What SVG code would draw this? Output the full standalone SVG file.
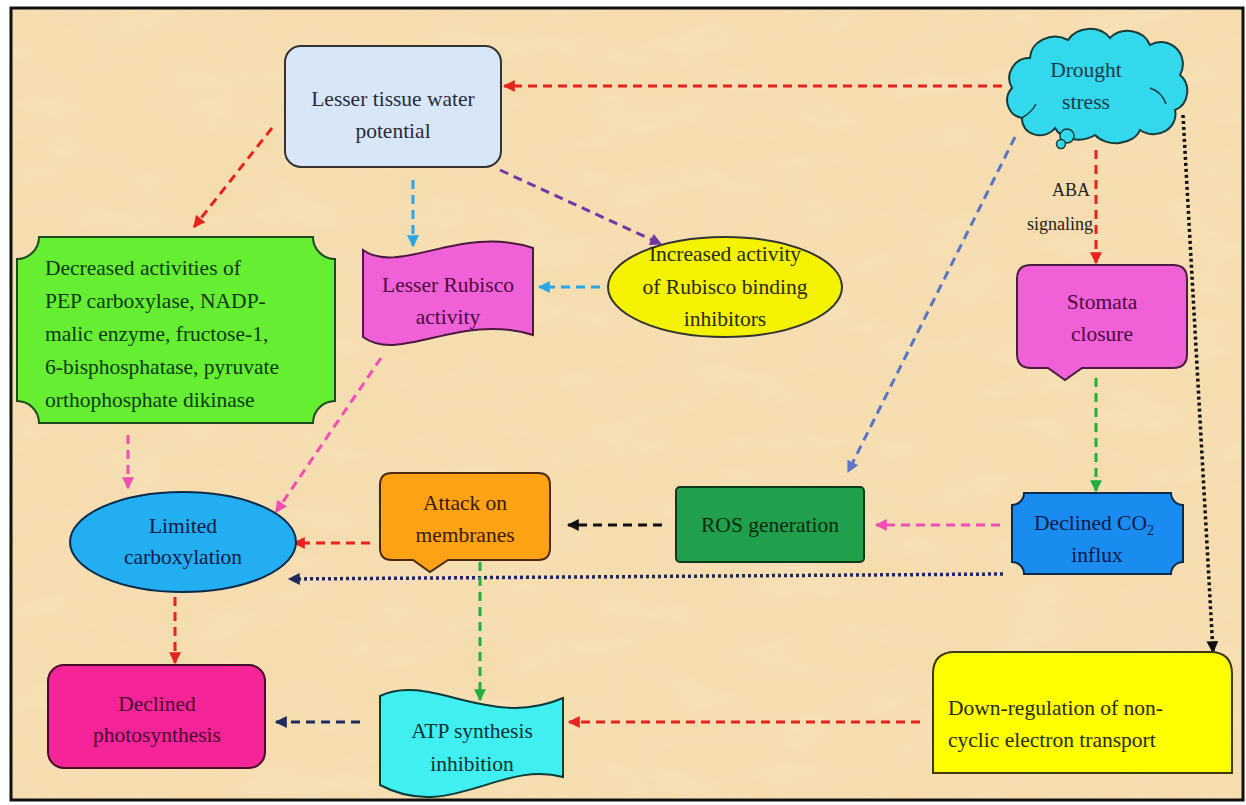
<svg xmlns="http://www.w3.org/2000/svg" width="1246" height="805" viewBox="0 0 1246 805">
<defs>
<filter id="paper" x="0" y="0" width="100%" height="100%">
<feTurbulence type="fractalNoise" baseFrequency="0.012 0.03" numOctaves="4" seed="7" result="n"/>
<feColorMatrix in="n" type="matrix" values="0 0 0 0 0.93  0 0 0 0 0.78  0 0 0 0 0.52  0 0 0 1.1 -0.45" result="c"/>
<feComposite in="c" in2="SourceGraphic" operator="in"/>
</filter>
<marker id="a-red" viewBox="0 0 10 10" refX="9" refY="5" markerWidth="13" markerHeight="12" markerUnits="userSpaceOnUse" orient="auto"><path d="M0,0 L10,5 L0,10 z" fill="#e8221c"/></marker>
<marker id="a-lblue" viewBox="0 0 10 10" refX="9" refY="5" markerWidth="13" markerHeight="12" markerUnits="userSpaceOnUse" orient="auto"><path d="M0,0 L10,5 L0,10 z" fill="#2aa6e6"/></marker>
<marker id="a-purple" viewBox="0 0 10 10" refX="9" refY="5" markerWidth="13" markerHeight="12" markerUnits="userSpaceOnUse" orient="auto"><path d="M0,0 L10,5 L0,10 z" fill="#7436a6"/></marker>
<marker id="a-steel" viewBox="0 0 10 10" refX="9" refY="5" markerWidth="13" markerHeight="12" markerUnits="userSpaceOnUse" orient="auto"><path d="M0,0 L10,5 L0,10 z" fill="#5a76c4"/></marker>
<marker id="a-black" viewBox="0 0 10 10" refX="9" refY="5" markerWidth="13" markerHeight="12" markerUnits="userSpaceOnUse" orient="auto"><path d="M0,0 L10,5 L0,10 z" fill="#111111"/></marker>
<marker id="a-green" viewBox="0 0 10 10" refX="9" refY="5" markerWidth="13" markerHeight="12" markerUnits="userSpaceOnUse" orient="auto"><path d="M0,0 L10,5 L0,10 z" fill="#22ae42"/></marker>
<marker id="a-pink" viewBox="0 0 10 10" refX="9" refY="5" markerWidth="13" markerHeight="12" markerUnits="userSpaceOnUse" orient="auto"><path d="M0,0 L10,5 L0,10 z" fill="#f04eb4"/></marker>
<marker id="a-navy" viewBox="0 0 10 10" refX="9" refY="5" markerWidth="13" markerHeight="12" markerUnits="userSpaceOnUse" orient="auto"><path d="M0,0 L10,5 L0,10 z" fill="#1c2a5e"/></marker>
</defs>
<style>
text{font-family:'Liberation Serif','DejaVu Serif',serif}
.t{font-size:21.5px;text-anchor:middle}
.tl{font-size:21.5px;text-anchor:start}
.sm{font-size:18px;text-anchor:middle}
.shape{stroke-width:2}
.dash{fill:none;stroke-width:3;stroke-dasharray:9 6}
.dot{fill:none;stroke-width:3.5;stroke-dasharray:3 3}
</style>
<rect x="0" y="0" width="1246" height="805" fill="#ffffff"/>
<rect x="11" y="8" width="1232" height="792" fill="#f5ddb0"/>
<rect x="11" y="8" width="1232" height="792" fill="#f5ddb0" filter="url(#paper)" opacity="0.8"/>
<rect x="11" y="8" width="1232" height="792" fill="none" stroke="#111" stroke-width="3"/>

<g id="connectors">
<line class="dash" x1="1002" y1="86" x2="504" y2="86" stroke="#e8221c" marker-end="url(#a-red)"/>
<line class="dash" x1="272" y1="128" x2="194" y2="227" stroke="#e8221c" marker-end="url(#a-red)"/>
<line class="dash" x1="413" y1="180" x2="413" y2="246" stroke="#2aa6e6" marker-end="url(#a-lblue)"/>
<line class="dash" x1="500" y1="170" x2="661" y2="244" stroke="#7436a6" marker-end="url(#a-purple)"/>
<line class="dash" x1="600" y1="287" x2="539" y2="287" stroke="#2aa6e6" marker-end="url(#a-lblue)"/>
<line class="dash" x1="1096" y1="150" x2="1096" y2="263" stroke="#e8221c" marker-end="url(#a-red)"/>
<line class="dash" x1="1015" y1="137" x2="848" y2="472" stroke="#5a76c4" marker-end="url(#a-steel)"/>
<line class="dot" x1="1183" y1="115" x2="1213" y2="652" stroke="#111111" marker-end="url(#a-black)"/>
<line class="dash" x1="1096" y1="378" x2="1096" y2="491" stroke="#22ae42" marker-end="url(#a-green)"/>
<line class="dash" x1="1000" y1="525" x2="876" y2="525" stroke="#f04eb4" marker-end="url(#a-pink)"/>
<line class="dash" x1="662" y1="525" x2="568" y2="525" stroke="#111111" marker-end="url(#a-black)"/>
<line class="dash" x1="370" y1="543" x2="294" y2="543" stroke="#e8221c" marker-end="url(#a-red)"/>
<line class="dot" x1="1003" y1="574" x2="289" y2="579" stroke="#1c2a5e" marker-end="url(#a-navy)"/>
<line class="dash" x1="128" y1="435" x2="128" y2="488" stroke="#f04eb4" marker-end="url(#a-pink)"/>
<line class="dash" x1="381" y1="358" x2="276" y2="512" stroke="#f04eb4" marker-end="url(#a-pink)"/>
<line class="dash" x1="175" y1="597" x2="175" y2="663" stroke="#e8221c" marker-end="url(#a-red)"/>
<line class="dash" x1="480" y1="562" x2="480" y2="700" stroke="#22ae42" marker-end="url(#a-green)"/>
<line class="dash" x1="360" y1="722" x2="276" y2="722" stroke="#1c2a5e" marker-end="url(#a-navy)"/>
<line class="dash" x1="920" y1="722" x2="569" y2="722" stroke="#e8221c" marker-end="url(#a-red)"/>
<text x="1071" y="196" class="sm" fill="#222">ABA</text>
<text x="1060" y="230" class="sm" fill="#222">signaling</text>
</g>

<g id="lesser-tissue">
<rect class="shape" x="285" y="46" width="216" height="121" rx="16" fill="#d8e7f8" stroke="#333"/>
<text class="t" x="393" y="106" fill="#2a2a3a">Lesser tissue water</text>
<text class="t" x="393" y="138" fill="#2a2a3a">potential</text>
</g>

<g id="drought">
<path class="shape" d="M1022,118 A18,18 0 0 1 1012,88 A20,20 0 0 1 1030,58 A25,22 0 0 1 1068,40 A25,22 0 0 1 1110,38 A24,22 0 0 1 1150,45 A22,22 0 0 1 1180,75 A18,20 0 0 1 1175,110 A22,20 0 0 1 1140,130 A25,18 0 0 1 1095,135 A25,18 0 0 1 1055,128 A18,16 0 0 1 1022,118 Z" fill="#34d8ec" stroke="#1a3a3a"/>
<path d="M1150,88 Q1162,92 1166,104" fill="none" stroke="#1a3a3a" stroke-width="1.5"/>
<path d="M1022,118 Q1032,112 1036,104" fill="none" stroke="#1a3a3a" stroke-width="1.5"/>
<circle cx="1067" cy="136" r="7" fill="#34d8ec" stroke="#1a3a3a" stroke-width="1.5"/>
<circle cx="1061" cy="144" r="4.5" fill="#34d8ec" stroke="#1a3a3a" stroke-width="1.5"/>
<text class="t" x="1086" y="77" fill="#1a3a4a">Drought</text>
<text class="t" x="1086" y="109" fill="#1a3a4a">stress</text>
</g>

<g id="decreased-activities">
<path class="shape" d="M39,237 L313,237 A22,22 0 0 0 335,259 L335,401 A22,22 0 0 0 313,423 L39,423 A22,22 0 0 0 17,401 L17,259 A22,22 0 0 0 39,237 Z" fill="#66ee33" stroke="#1d4a1d"/>
<text class="tl" x="45" y="275" fill="#0c3a0c">Decreased activities of</text>
<text class="tl" x="45" y="308" fill="#0c3a0c">PEP carboxylase, NADP-</text>
<text class="tl" x="45" y="341" fill="#0c3a0c">malic enzyme, fructose-1,</text>
<text class="tl" x="45" y="374" fill="#0c3a0c">6-bisphosphatase, pyruvate</text>
<text class="tl" x="45" y="407" fill="#0c3a0c">orthophosphate dikinase</text>
</g>

<g id="lesser-rubisco">
<path class="shape" d="M363,250 C400,276 460,224 533,248 L533,335 C460,312 400,364 363,337 Z" fill="#f060d6" stroke="#4a1a40"/>
<text class="t" x="448" y="292" fill="#4a0a40">Lesser Rubisco</text>
<text class="t" x="448" y="324" fill="#4a0a40">activity</text>
</g>

<g id="rubisco-inhibitors">
<ellipse class="shape" cx="725" cy="287" rx="117" ry="50" fill="#f5f200" stroke="#333"/>
<text class="t" x="725" y="261" fill="#2a2a10">Increased activity</text>
<text class="t" x="725" y="294" fill="#2a2a10">of Rubisco binding</text>
<text class="t" x="725" y="326" fill="#2a2a10">inhibitors</text>
</g>

<g id="stomata">
<path class="shape" d="M1031,265 L1173,265 Q1187,265 1187,279 L1187,354 Q1187,368 1173,368 L1082,368 L1065,380 L1048,368 L1031,368 Q1017,368 1017,354 L1017,279 Q1017,265 1031,265 Z" fill="#f060d6" stroke="#4a1a40"/>
<text class="t" x="1102" y="309" fill="#4a0a40">Stomata</text>
<text class="t" x="1102" y="341" fill="#4a0a40">closure</text>
</g>

<g id="declined-co2">
<path class="shape" d="M1024,493 L1171,493 A12,12 0 0 0 1183,505 L1183,562 A12,12 0 0 0 1171,574 L1024,574 A12,12 0 0 0 1012,562 L1012,505 A12,12 0 0 0 1024,493 Z" fill="#1a8cf0" stroke="#0a2a4a"/>
<text class="t" x="1094" y="530" fill="#0a1a48">Declined CO<tspan style="font-size:14px" dy="5">2</tspan></text>
<text class="t" x="1097" y="562" fill="#0a1a48">influx</text>
</g>

<g id="ros">
<rect class="shape" x="676" y="487" width="188" height="75" rx="4" fill="#20a04c" stroke="#0a3a1a"/>
<text class="t" x="770" y="532" fill="#082a10">ROS generation</text>
</g>

<g id="attack">
<path class="shape" d="M392,473 L538,473 Q550,473 550,485 L550,548 Q550,560 538,560 L448,560 L430,572 L413,560 L392,560 Q380,560 380,548 L380,485 Q380,473 392,473 Z" fill="#ffa214" stroke="#4a2a0a"/>
<text class="t" x="465" y="510" fill="#3a1a00">Attack on</text>
<text class="t" x="465" y="542" fill="#3a1a00">membranes</text>
</g>

<g id="limited-carboxylation">
<ellipse class="shape" cx="183" cy="542" rx="113" ry="50" fill="#22aef0" stroke="#0a2a4a"/>
<text class="t" x="183" y="533" fill="#0a1a48">Limited</text>
<text class="t" x="183" y="564" fill="#0a1a48">carboxylation</text>
</g>

<g id="declined-photosynthesis">
<rect class="shape" x="48" y="665" width="217" height="103" rx="16" fill="#f52498" stroke="#4a0a2a"/>
<text class="t" x="157" y="711" fill="#4a0a30">Declined</text>
<text class="t" x="157" y="742" fill="#4a0a30">photosynthesis</text>
</g>

<g id="atp-inhibition">
<path class="shape" d="M380,696 C430,672 490,730 563,698 L563,777 C500,760 450,822 380,785 Z" fill="#40f0f0" stroke="#0a3a3a"/>
<text class="t" x="472" y="738" fill="#0a3030">ATP synthesis</text>
<text class="t" x="472" y="771" fill="#0a3030">inhibition</text>
</g>

<g id="down-regulation">
<path class="shape" d="M955,652 L1210,652 Q1232,652 1232,674 L1232,773 L933,773 L933,674 Q933,652 955,652 Z" fill="#ffff00" stroke="#3a3a0a"/>
<text class="tl" x="948" y="715" fill="#2a2a00">Down-regulation of non-</text>
<text class="tl" x="948" y="747" fill="#2a2a00">cyclic electron transport</text>
</g>
</svg>
